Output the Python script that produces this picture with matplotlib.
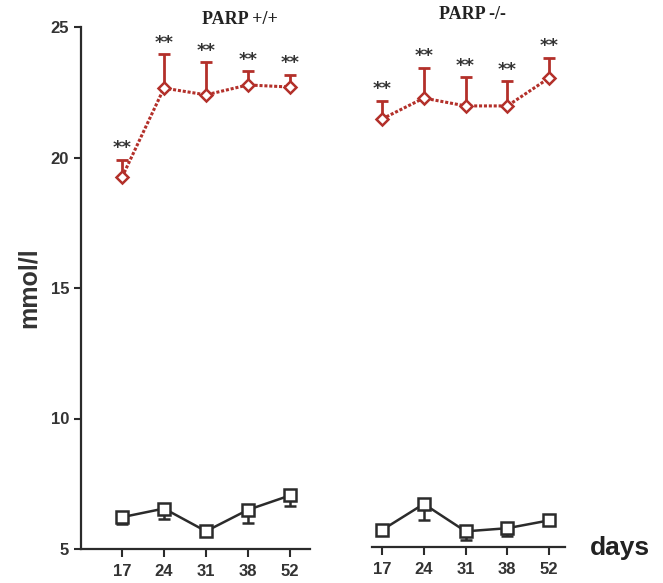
import numpy as np
import matplotlib.pyplot as plt

days = ['17', '24', '31', '38', '52']

# PARP +/+ (diabetic = red, control = black)
wt_diab = [19.25, 22.66, 22.4, 22.78, 22.7]
wt_diab_err = [0.65, 1.3, 1.25, 0.52, 0.46]
wt_ctrl = [6.22, 6.55, 5.68, 6.5, 7.05]
wt_ctrl_err = [0.25, 0.4, 0.15, 0.5, 0.4]

# PARP -/-
ko_diab = [21.4, 22.2, 21.9, 21.9, 22.97]
ko_diab_err = [0.7, 1.15, 1.1, 0.95, 0.77]
ko_ctrl = [5.65, 6.65, 5.6, 5.72, 6.02]
ko_ctrl_err = [0.0, 0.6, 0.32, 0.3, 0.0]

RED = '#b3302a'
DARK = '#2b2b2b'
TXT = '#333333'


def draw_panel(ax, diab, diab_err, ctrl, ctrl_err):
    x = np.arange(len(days))
    ax.errorbar(x, diab, yerr=[np.zeros(len(x)), diab_err], fmt='none',
                ecolor=RED, elinewidth=2, capsize=4, capthick=2, zorder=2)
    ax.plot(x, diab, color=RED, ls=(0, (1, 0.6)), lw=2.2, zorder=3,
            marker='D', ms=6, mfc='white', mec=RED, mew=1.8)
    ax.errorbar(x, ctrl, yerr=[ctrl_err, np.zeros(len(x))], fmt='none',
                ecolor=DARK, elinewidth=1.8, capsize=4, capthick=1.8, zorder=2)
    ax.plot(x, ctrl, color=DARK, lw=1.8, zorder=3,
            marker='s', ms=8, mfc='white', mec=DARK, mew=1.8)
    for xi, v, e in zip(x, diab, diab_err):
        ax.text(xi, v + e + 0.1, '**', ha='center', va='bottom',
                fontsize=13, color=TXT, fontweight='bold')
    ax.set_ylim(5, 25)
    ax.set_xticks(x)
    ax.set_xticklabels(days, fontsize=12, fontweight='bold', color=TXT,
                       family='Liberation Sans')
    ax.tick_params(axis='x', direction='out', length=6, width=1.5,
                   pad=5, color=DARK)
    for s in ['top', 'right']:
        ax.spines[s].set_visible(False)
    ax.spines['bottom'].set_linewidth(1.6)
    ax.spines['bottom'].set_color(DARK)


fig = plt.figure(figsize=(6.63, 5.83), dpi=100)

ax1 = fig.add_axes([81 / 663, 34 / 583, 229 / 663, 522 / 583])
draw_panel(ax1, wt_diab, wt_diab_err, wt_ctrl, wt_ctrl_err)
ax1.set_xlim(-0.98, 4.48)
ax1.set_yticks([5, 10, 15, 20, 25])
ax1.set_yticklabels(['5', '10', '15', '20', '25'], fontsize=12,
                    fontweight='bold', color=TXT, family='Liberation Sans')
ax1.tick_params(axis='y', direction='out', length=5, width=1.5, color=DARK)
ax1.spines['left'].set_linewidth(1.6)
ax1.spines['left'].set_color(DARK)
ax1.set_ylabel('mmol/l', fontsize=18, fontweight='bold', color=TXT,
               family='Liberation Sans')
ax1.yaxis.set_label_coords(-0.175, 0.5)
ax1.set_title('PARP +/+', fontsize=13, family='Liberation Serif',
              fontweight='bold', color='#222222', x=0.694, y=1.0, pad=2)

ax2 = fig.add_axes([372 / 663, 36 / 583, 193 / 663, 522 / 583])
draw_panel(ax2, ko_diab, ko_diab_err, ko_ctrl, ko_ctrl_err)
ax2.set_xlim(-0.24, 4.38)
ax2.spines['left'].set_visible(False)
ax2.set_yticks([])
ax2.set_title('PARP -/-', fontsize=13, family='Liberation Serif',
              fontweight='bold', color='#222222', x=0.52, y=1.0, pad=4)

fig.text(620 / 663, 1 - 548 / 583, 'days', fontsize=19, fontweight='bold',
         color='#222222', family='Liberation Sans', ha='center', va='center')

fig.savefig('out.png', dpi=100)
